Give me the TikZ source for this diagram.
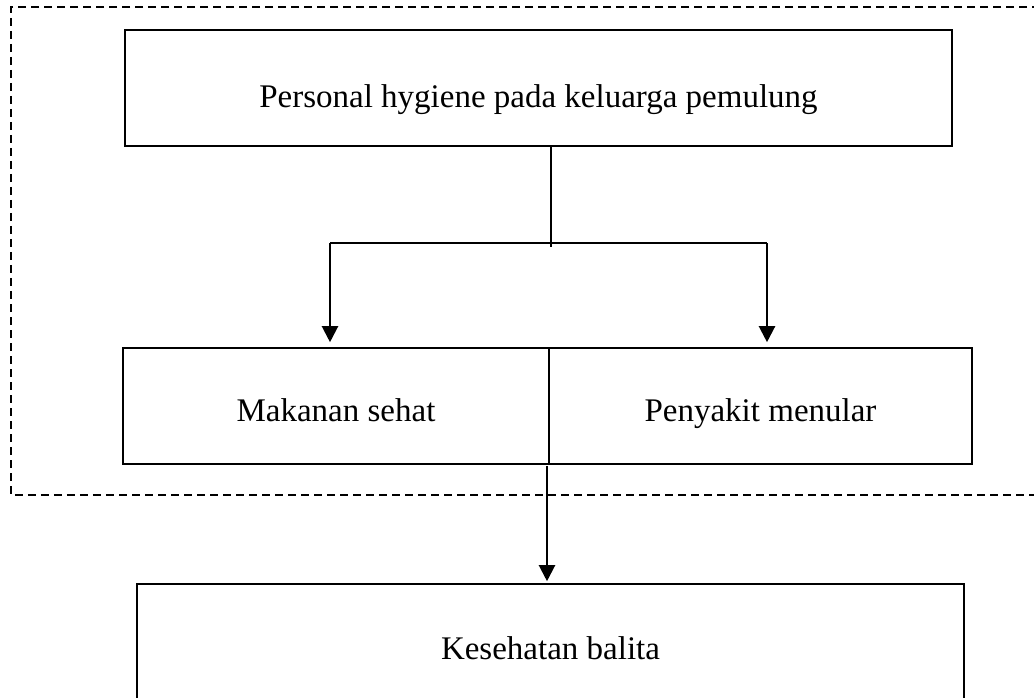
\documentclass[tikz,border=0pt]{standalone}
\usepackage{fontspec}
\setmainfont{Liberation Serif}
\usetikzlibrary{arrows.meta}

\def\boxh{116pt}

\begin{document}
\begin{tikzpicture}[x=1pt,y=-1pt,line width=1.4pt]
    \tikzstyle{block} = [rectangle, draw=black, line width=1.6pt, minimum height=\boxh, inner sep=0pt, text depth=8pt, text height=38pt, font=\fontsize{33}{40}\selectfont]
    \tikzstyle{frame} = [draw=black, line width=2pt, dash pattern=on 8pt off 5pt]
    \tikzstyle{arr} = [-{Triangle[length=16pt,width=16pt]}, line width=2.2pt]

    \useasboundingbox (0,0) rectangle (1034,698);

    %%% DRAW THE FRAME
    \draw[frame] (1040,7) -- (11,7) -- (11,495) -- (1040,495);

    %%% DRAW THE NODES
    \node[block, minimum width=827pt, text height=48pt] (hyg) at (538.5,88) {Personal hygiene pada keluarga pemulung};
    \node[block, minimum width=426pt] (mak) at (336,406) {Makanan sehat};
    \node[block, minimum width=423pt] (pen) at (760.5,406) {Penyakit menular};
    \node[block, minimum width=827pt, minimum height=128pt, text height=30pt] (kes) at (550.5,648) {Kesehatan balita};

    \coordinate (split) at (551,243);
    \coordinate (bl) at (330,243);
    \coordinate (br) at (767,243);
    \coordinate (mid) at (547,466);

    %%% DRAW THE PATHS
    \draw (hyg.south -| split) -- ([yshift=-4pt]split);
    \draw[line width=2.2pt] (bl) -- (br);
    \draw[arr] (bl) -- ([yshift=5pt]bl |- mak.north);
    \draw[arr] (br) -- ([yshift=5pt]br |- pen.north);
    \draw[arr] (mid) -- ([yshift=2pt]mid |- kes.north);

\end{tikzpicture}
\end{document}
